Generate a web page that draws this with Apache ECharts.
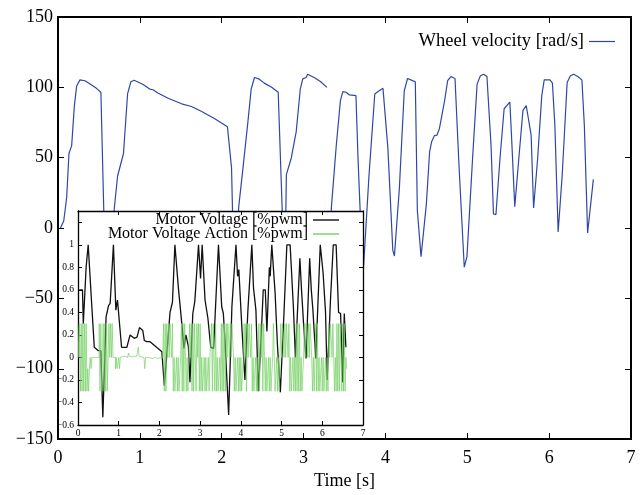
<!DOCTYPE html>
<html><head><meta charset="utf-8">
<script src="https://cdn.jsdelivr.net/npm/echarts@6/dist/echarts.min.js"></script>
<style>html,body{margin:0;padding:0;background:#fff}#c{width:643px;height:495px}</style>
</head><body><div id="c"></div>
<script>
// Main plot: wheel velocity [rad/s] vs time [s]
const velocityTime = [0.03,0.07,0.106,0.134,0.167,0.2,0.228,0.268,0.33,0.41,0.47,0.524,0.6,0.687,0.728,0.8,0.85,0.89,0.93,1.04,1.12,1.16,1.22,1.345,1.51,1.63,1.75,1.91,2.07,2.12,2.16,2.207,2.26,2.32,2.36,2.40,2.46,2.52,2.61,2.69,2.77,2.79,2.85,2.91,2.96,2.99,3.03,3.05,3.13,3.21,3.285,3.29,3.30,3.34,3.40,3.45,3.48,3.52,3.56,3.64,3.665,3.69,3.715,3.80,3.87,3.91,3.97,4.03,4.09,4.11,4.17,4.23,4.27,4.31,4.365,4.39,4.435,4.50,4.54,4.565,4.60,4.63,4.66,4.72,4.76,4.80,4.85,4.90,4.963,4.996,5.065,5.12,5.16,5.20,5.24,5.29,5.32,5.35,5.40,5.45,5.52,5.54,5.58,5.63,5.68,5.72,5.74,5.78,5.81,5.86,5.91,5.94,6.01,6.04,6.07,6.11,6.16,6.22,6.26,6.30,6.35,6.40,6.43,6.47,6.54];
const velocityValue = [0,5,21.7,53,58.6,87,101,105.3,104.7,101.6,99.3,96.5,-85,13.5,37,53,95.3,104,105,102,98.8,98.3,96,92.3,88.3,86.4,83,77.8,72,42.8,-60,14.7,42.8,75.5,98.8,107,105.8,103,100,96.5,-40,38,49.8,68.5,98.8,106,107,109.3,107,104,100,null,-50,14.7,59,90.6,97,96.5,94.6,94.1,49.8,14,-45,38,95.3,97,99.3,56.8,-15.7,-19.9,28,97.6,106.3,105.3,104,12.4,-20.3,17,54.4,61.5,65.7,66.1,70.8,89.5,104.7,107.7,106.3,42.8,-27.8,-20.3,49.8,102.3,108.2,109.3,107.7,59,10,9.6,49.8,84.8,89.5,66,15.2,49.8,83.6,87.1,88.3,66,14.2,49.8,94.1,105.3,105.3,103,73,-2.8,38,103.5,108.2,109.3,107.7,105.3,73,-3.5,34.6];

// Inset: motor voltage [%pwm]
const voltageTime = [0.03,0.11,0.13,0.2,0.25,0.34,0.40,0.5,0.56,0.61,0.69,0.75,0.79,0.87,0.93,0.97,1.07,1.2,1.28,1.38,1.45,1.51,1.59,1.63,1.69,1.77,1.93,2.06,2.12,2.18,2.26,2.32,2.38,2.47,2.55,2.6,2.65,2.71,2.75,2.82,2.87,2.96,3.01,3.05,3.12,3.19,3.26,3.33,3.45,3.53,3.57,3.61,3.70,3.78,3.88,3.92,3.95,4.02,4.1,4.17,4.27,4.31,4.37,4.43,4.5,4.55,4.6,4.64,4.7,4.72,4.76,4.79,4.84,4.9,4.97,5.06,5.13,5.21,5.29,5.34,5.45,5.49,5.54,5.6,5.69,5.73,5.77,5.84,5.95,6.02,6.08,6.12,6.2,6.27,6.34,6.4,6.45,6.5,6.54,6.58];
const voltageValue = [0.6,0.6,0.3,0.8,1.0,0.45,0.09,0.06,0.06,-0.53,0.36,0.46,0.48,1.0,0.42,0.51,0.09,0.09,0.2,0.17,0.18,0.265,0.24,0.15,0.14,0.14,0.09,0.05,-0.25,0.02,0.4,0.49,1.0,0.6,0.3,0.08,0.2,0.1,-0.22,0.39,0.5,1.0,0.7,1.0,0.51,0.35,0.09,0.08,1.0,0.45,0.39,0.15,-0.51,0.45,1.0,0.72,0.78,0.3,-0.2,0.4,1.0,0.62,0.42,-0.3,0.2,0.6,0.6,0.23,0.8,0.72,1.0,1.0,0.58,0.1,-0.31,0.4,1.0,1.0,0.45,0.0,0.88,0.6,0.3,-0.01,0.88,0.6,0.42,-0.01,1.0,0.75,0.4,-0.2,0.5,1.0,1.0,0.4,0.39,-0.22,0.39,0.09];

// Inset: motor voltage action [%pwm], one sample every actionStep seconds from t = 0
const actionStep = 0.02;
const actionValue = [
 .3,0,.3,-.3,.3,-.3,.3,-.3,.3,-.3,.3,-.3,
 -.1,-.3,-.1,0,-.1,0,
 0,0,0,0,0,0,0,0,
 .3,-.3,.3,-.3,0,.3,-.3,.3,-.3,.3,-.3,
 0,
 .3,0,.3,0,.3,
 0,0,0,
 -.1,0,-.1,-.1,0,-.1,0,
 0,.01,0,.005,.01,0,.01,0,.005,
 .04,
 .01,0,.005,.01,0,.01,.005,0,.01,0,.005,
 .09,
 .01,0,.005,0,.01,0,0,
 -.1,
 0,-.005,0,-.01,0,-.005,0,-.005,-.01,0,-.005,0,-.005,0,-.01,0,-.005,0,-.005,0,-.005,0,
 .3,-.3,.3,-.3,.3,
 0,.3,0,.3,.3,0,.3,
 -.3,0,-.3,-.3,0,-.3,0,-.3,-.3,0,
 .3,-.3,.3,-.3,.3,0,
 -.3,0,-.3,-.3,
 .3,0,.3,
 -.3,.3,-.3,.3,.3,-.3,.3,0,.3,-.3,.3,
 -.3,0,-.3,-.3,0,-.3,0,-.3,-.3,0,-.3,
 0,0,
 .3,-.3,.3,.3,-.3,.3,
 -.3,0,-.3,-.3,0,-.3,
 .3,-.3,.3,-.3,.3,-.3,
 .3,0,.3,.3,0,.3,0,.3,.3,0,
 -.3,0,-.3,-.3,0,-.3,0,-.3,0,-.3,-.3,0,
 .3,0,.3,-.3,.3,0,.3,.3,0,.3,
 -.3,0,-.3,-.3,0,-.3,0,-.3,
 .3,-.3,.3,0,.3,-.3,.3,.3,-.3,
 0,-.3,-.3,0,-.3,0,-.3,-.3,0,.3,0,-.3,-.3,0,-.3,0,-.3,-.3,
 .3,0,.3,.3,0,.3,0,.3,.3,0,.3,
 -.3,0,-.3,-.3,0,-.3,0,-.3,
 .3,-.3,.3,-.3,.3,-.3,
 0,-.3,-.3,0,
 .3,0,.3,.3,0,.3,0,.3,.3,0,
 -.3,0,-.3,-.3,
 .3,-.3,.3,-.3,
 0,-.3,-.3,0,-.3,0,-.3,-.3,0,-.3,0,-.3,
 .3,0,.3,.3,0,.3,0,
 -.3,0,-.3,
 .3,-.3,.3,-.3,.3,.3,-.3,.3,-.3,.3,
 -.3,0,-.1
];

const mainXRange = [0, 7, 1];
const mainYRange = [-150, 150, 50];
const insetXRange = [0, 7, 1];
const insetYRange = [-0.6, 1.3, 0.2];

const SERIF = 'Liberation Serif';
const minus = s => String(s).replace('-', '\u2212');

const velocityData = velocityTime.map((t, i) => [t, velocityValue[i]]);
const voltageData = voltageTime.map((t, i) => [t, voltageValue[i]]);
const actionData = actionValue.map((v, i) => [+(i * actionStep).toFixed(3), v]);

function mainX(pos, showLabel) {
  return {
    type: 'value', gridIndex: 0, position: pos,
    min: mainXRange[0], max: mainXRange[1], interval: mainXRange[2],
    axisLine: { show: true, onZero: false, lineStyle: { color: '#000', width: 2 } },
    axisTick: { show: true, inside: true, length: 6, lineStyle: { color: '#000', width: 1 } },
    axisLabel: { show: showLabel, fontFamily: SERIF, fontSize: 18, color: '#000', margin: 10 },
    splitLine: { show: false }
  };
}
function mainY(pos, showLabel) {
  return {
    type: 'value', gridIndex: 0, position: pos,
    min: mainYRange[0], max: mainYRange[1], interval: mainYRange[2],
    axisLine: { show: true, onZero: false, lineStyle: { color: '#000', width: 2 } },
    axisTick: { show: true, inside: true, length: 6, lineStyle: { color: '#000', width: 1 } },
    axisLabel: { show: showLabel, fontFamily: SERIF, fontSize: 18, color: '#000', margin: 5, formatter: v => minus(v) },
    splitLine: { show: false }
  };
}
function insetX(pos, showLabel) {
  return {
    type: 'value', gridIndex: 1, position: pos, zlevel: 1, z: 5,
    min: insetXRange[0], max: insetXRange[1], interval: insetXRange[2],
    axisLine: { show: true, onZero: false, lineStyle: { color: '#000', width: 1.3 } },
    axisTick: { show: true, inside: true, length: 4, lineStyle: { color: '#000', width: 1 } },
    axisLabel: { show: showLabel, fontFamily: SERIF, fontSize: 9.5, color: '#000', margin: 3 },
    splitLine: { show: false }
  };
}
function insetY(pos, showLabel) {
  return {
    type: 'value', gridIndex: 1, position: pos, zlevel: 1, z: 5,
    min: insetYRange[0], max: insetYRange[1], interval: insetYRange[2],
    axisLine: { show: true, onZero: false, lineStyle: { color: '#000', width: 1.3 } },
    axisTick: { show: true, inside: true, length: 4, lineStyle: { color: '#000', width: 1 } },
    axisLabel: { show: showLabel, fontFamily: SERIF, fontSize: 9.5, color: '#000', margin: 4,
      formatter: v => (v > 1.1 ? '' : minus(Math.round(v * 10) / 10)) },
    splitLine: { show: false }
  };
}

const BLUE = '#2f47a8', BLACK = '#111', GREEN = '#74cf63';

const chart = echarts.init(document.getElementById('c'), null, { renderer: 'canvas' });
chart.setOption({
  animation: false,
  backgroundColor: '#fff',
  grid: [
    { left: 58, right: 12, top: 17, bottom: 50, containLabel: false },
    { left: 78, right: 280, top: 211, bottom: 70, show: true, backgroundColor: '#fff', borderWidth: 0, zlevel: 1, z: 0 }
  ],
  xAxis: [
    Object.assign(mainX('bottom', true), { name: 'Time [s]', nameLocation: 'middle', nameGap: 31,
      nameTextStyle: { fontFamily: SERIF, fontSize: 18, color: '#000' } }),
    mainX('top', false),
    insetX('bottom', true),
    insetX('top', false)
  ],
  yAxis: [
    mainY('left', true),
    mainY('right', false),
    insetY('left', true),
    insetY('right', false)
  ],
  legend: [
    { data: [{ name: 'Wheel velocity [rad/s]', icon: 'rect' }], right: 23, top: 27, align: 'right', orient: 'vertical',
      itemWidth: 26, itemHeight: 1.2, itemGap: 0,
      textStyle: { fontFamily: SERIF, fontSize: 18.5, color: '#000' } },
    { data: [{ name: 'Motor Voltage [%pwm]', icon: 'rect' }, { name: 'Motor Voltage Action [%pwm]', icon: 'rect' }],
      right: 299, top: 207, align: 'right', orient: 'vertical',
      itemWidth: 26, itemHeight: 1.4, itemGap: -2, zlevel: 1, z: 10,
      textStyle: { fontFamily: SERIF, fontSize: 16, color: '#000' } }
  ],
  series: [
    { name: 'Wheel velocity [rad/s]', type: 'line', xAxisIndex: 0, yAxisIndex: 0, data: velocityData,
      symbol: 'none', connectNulls: false, lineStyle: { color: BLUE, width: 1.2 }, itemStyle: { color: BLUE }, z: 2 },
    { name: 'Motor Voltage [%pwm]', type: 'line', xAxisIndex: 2, yAxisIndex: 2, data: voltageData,
      symbol: 'none', lineStyle: { color: BLACK, width: 1.3 }, itemStyle: { color: BLACK }, zlevel: 1, z: 6 },
    { name: 'Motor Voltage Action [%pwm]', type: 'line', step: 'end', xAxisIndex: 2, yAxisIndex: 2, data: actionData,
      symbol: 'none', lineStyle: { color: GREEN, width: 0.8, opacity: 0.85 }, itemStyle: { color: GREEN }, zlevel: 1, z: 7 }
  ]
});
</script>
</body></html>
